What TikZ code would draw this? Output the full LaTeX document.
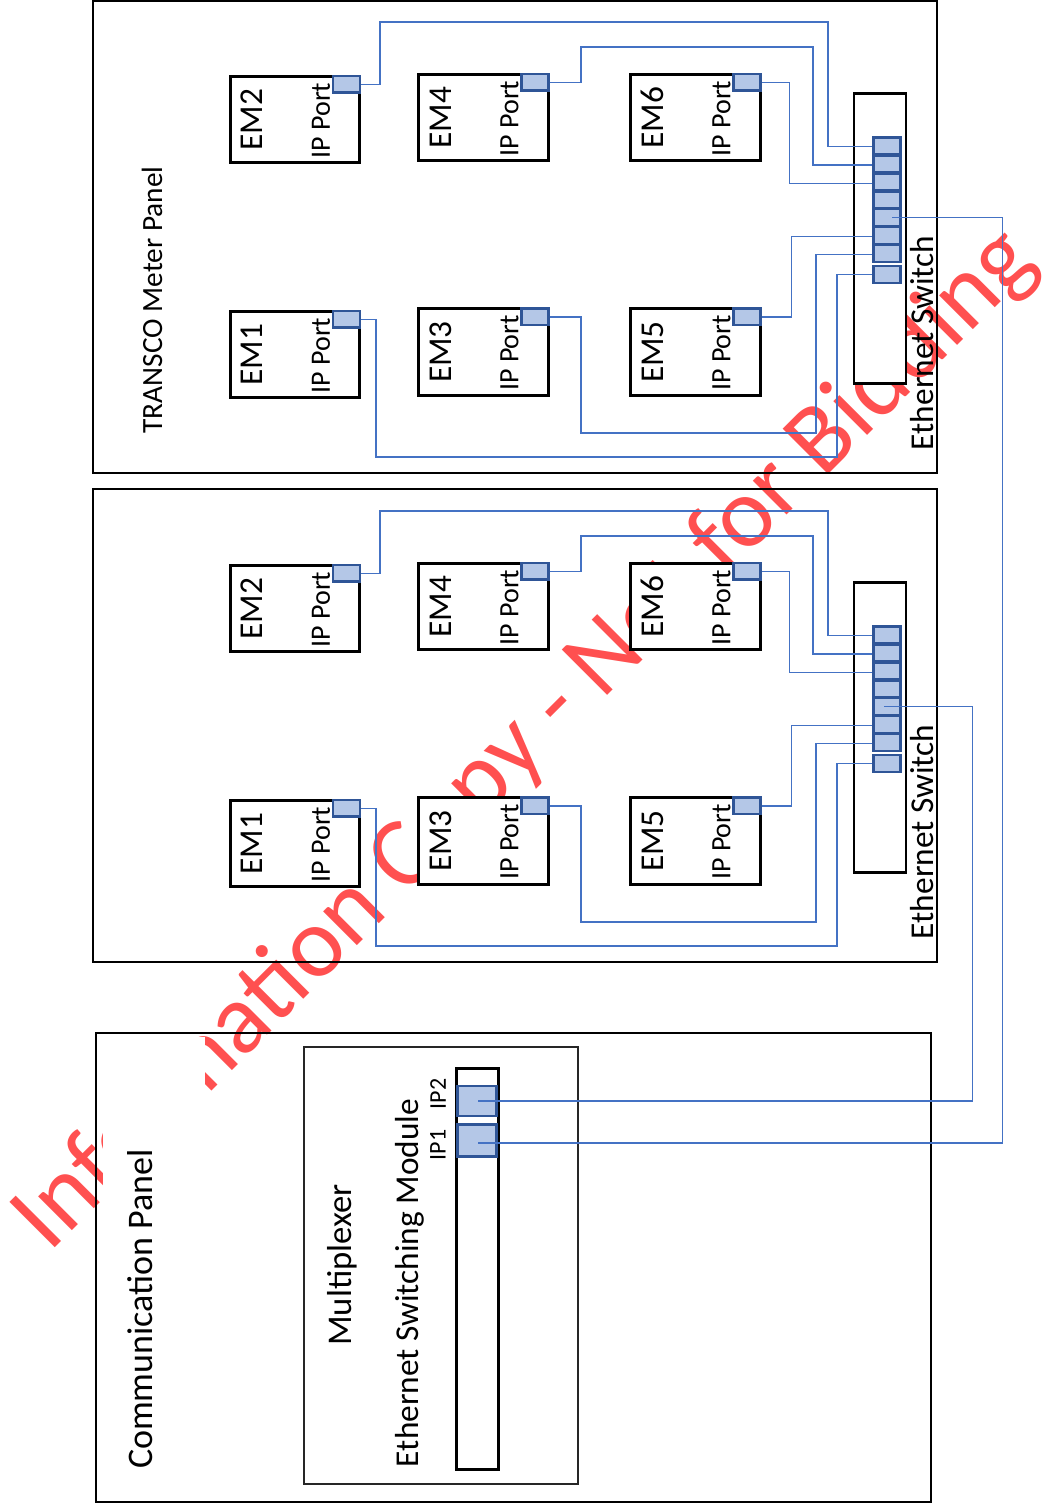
\documentclass[tikz,border=0pt]{standalone}
\usepackage{fontspec}
\setmainfont{Carlito}
\usetikzlibrary{calc}
\definecolor{wirec}{HTML}{4472C4}
\definecolor{portfill}{HTML}{B4C7E7}
\definecolor{portedge}{HTML}{2F5597}
\definecolor{wmred}{HTML}{FF5050}
\begin{document}
\begin{tikzpicture}[x=0.75pt,y=-0.75pt,
  panel/.style={draw=black,line width=1.5pt},
  embox/.style={draw=black,fill=white,line width=2.2pt,minimum width=97pt,minimum height=65pt,inner sep=0pt},
  emport/.style={draw=portedge,fill=portfill,line width=1.9pt,minimum width=20pt,minimum height=12.5pt,inner sep=0pt},
  swbox/.style={draw=black,fill=white,line width=2.2pt,minimum width=39pt,minimum height=218pt,inner sep=0pt},
  swport/.style={draw=portedge,fill=portfill,line width=1.9pt,minimum width=20pt,minimum height=12.6pt,inner sep=0pt},
  ipport/.style={draw=portedge,fill=portfill,line width=1.9pt,minimum width=29pt,inner sep=0pt},
  wire/.style={draw=wirec,line width=1.1pt},
  lbl/.style={rotate=90,inner sep=0pt},
  emlbl/.style={lbl,font=\fontsize{25}{30}\selectfont},
  iplbl/.style={lbl,font=\fontsize{21}{25}\selectfont},
  biglbl/.style={lbl,font=\fontsize{25}{30}\selectfont}]
\useasboundingbox (0,0) rectangle (1043,1504);

% watermark (behind everything)
\node[rotate=45,text=wmred,inner sep=0pt,font=\fontsize{75}{80}\selectfont] (wm) at (526,740) {Information Copy - Not for Bidding};

% panels
\fill[white] (103,1037) rectangle (205,1498);
\draw[panel] (93,1) rectangle (937,473);
\draw[panel] (93,489) rectangle (937,962);
\draw[panel] (96,1033) rectangle (931,1502);
\draw[draw=black!85,fill=white,line width=0.9pt] (304,1047) rectangle (578,1484);

\node[lbl,font=\fontsize{22}{26}\selectfont] (tpanel) at (152,300) {TRANSCO Meter Panel};

\foreach \p/\dy in {t/0,m/489}{
  % energy meters
  \foreach \n/\x/\y in {1/295/354.5,2/295/119.5,3/483.5/352,4/483.5/117.5,5/695.5/352,6/695.5/117.5}{
    \node[embox] (\p em\n) at (\x,\y+\dy) {};
  }
  % ethernet switch
  \node[swbox] (\p sw) at (880,238.5+\dy) {};
  % wires
  \coordinate (\p a1) at (887,146.5+\dy);
  \coordinate (\p a2) at (887,165+\dy);
  \coordinate (\p a3) at (887,183.5+\dy);
  \coordinate (\p a5) at (887,215+\dy);
  \coordinate (\p a6) at (887,236.5+\dy);
  \coordinate (\p a7) at (887,254.5+\dy);
  \coordinate (\p a8) at (887,274.5+\dy);
  \foreach \n in {1,...,6}{
    \node[emport,anchor=north east] (\p em\n p) at (\p em\n.north east) {};
  }
  \draw[wire] (\p em2p.east) -| (380,22+\dy) -- (828,22+\dy) |- (\p a1);
  \draw[wire] (\p em4p.east) -| (581,47+\dy) -- (813,47+\dy) |- (\p a2);
  \draw[wire] (\p em6p.east) -- ++(28,0) |- (\p a3);
  \draw[wire] (\p em5p.east) -- ++(30,0) |- (\p a6);
  \draw[wire] (\p em3p.east) -| (581,433+\dy) -- (816,433+\dy) |- (\p a7);
  \draw[wire] (\p em1p.east) -| (376,457+\dy) -- (837,457+\dy) |- (\p a8);
  % switch ports
  \foreach \i/\yy in {1/146,2/163.9,3/181.8,4/199.7,5/217.6,6/235.5,7/253.4,8/274.5}{
    \node[swport] (\p s\i) at (887,\yy+\dy) {};
  }
  % labels
  \foreach \n in {1,...,6}{
    \node[emlbl] (\p em\n l) at ($(\p em\n.center)+(-43,0)$) {EM\n};
    \node[iplbl] (\p em\n i) at ($(\p em\n.center)+(26,1)$) {IP Port};
  }
  \node[biglbl] (\p swl) at ($(\p sw.center)+(42,104.5)$) {Ethernet Switch};
}

% multiplexer
\node[lbl,font=\fontsize{26}{31}\selectfont] (mux) at (342,1265) {Multiplexer};
\node[draw=black,fill=white,line width=2.2pt,minimum width=31pt,minimum height=301pt,inner sep=0pt] (esm) at (477.5,1269) {};
\node[ipport,minimum height=22.5pt] (ip2) at (477,1101) {};
\node[ipport,minimum height=24pt] (ip1) at (477,1140.5) {};
\node[lbl,font=\fontsize{25}{30}\selectfont] (esml) at (410,1283) {Ethernet Switching Module};
\node[lbl,font=\fontsize{18}{22}\selectfont] (ip1l) at (438,1145) {IP1};
\node[lbl,font=\fontsize{18}{22}\selectfont] (ip2l) at (438,1094) {IP2};
\node[lbl,font=\fontsize{27}{32}\selectfont] (cpl) at (140,1309) {Communication Panel};

% uplinks
\draw[wire] ([xshift=4pt]ts5.center) -- ++(110,0) |- ([xshift=1pt,yshift=-2pt]ip1.center);
\draw[wire] ([xshift=-2pt]ms5.center) -- ++(88,0) |- ([xshift=1pt]ip2.center);
\end{tikzpicture}
\end{document}
